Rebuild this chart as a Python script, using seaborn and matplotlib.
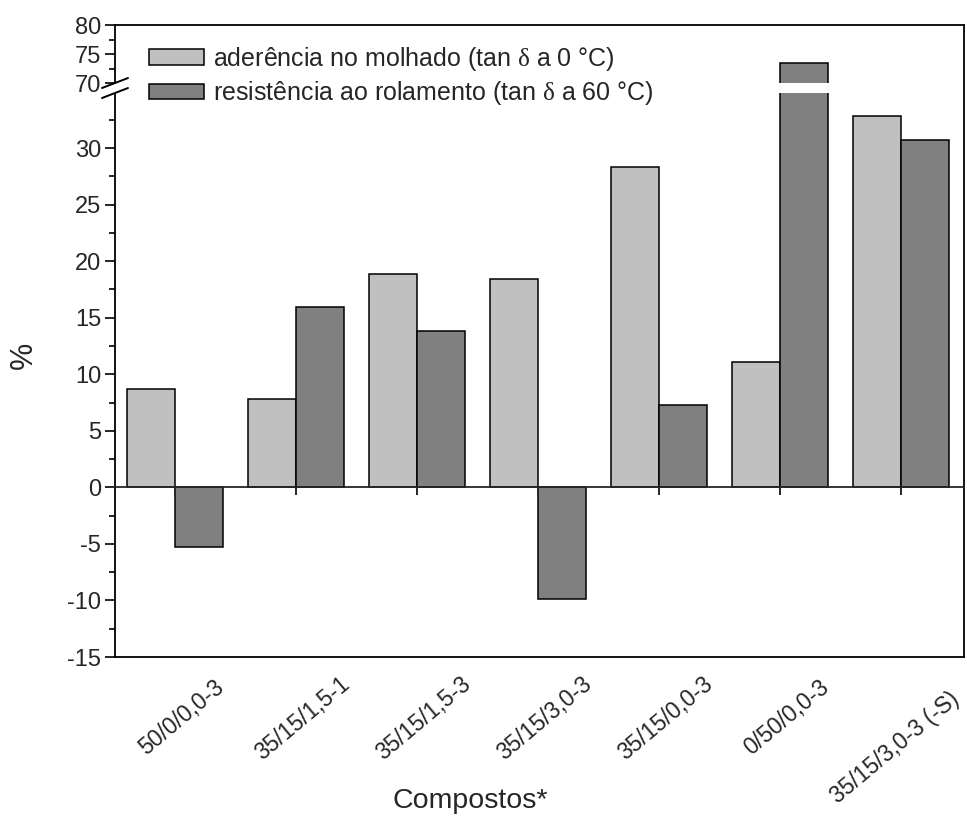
import numpy as np
import pandas as pd
import matplotlib
matplotlib.use("Agg")
import matplotlib.pyplot as plt
import seaborn as sns
from matplotlib.lines import Line2D
from matplotlib.patches import Patch, Polygon
from matplotlib.transforms import ScaledTranslation

# ---------------- data ----------------
categories = ["50/0/0,0-3", "35/15/1,5-1", "35/15/1,5-3", "35/15/3,0-3",
              "35/15/0,0-3", "0/50/0,0-3", "35/15/3,0-3 (-S)"]
aderencia = [8.7, 7.85, 18.85, 18.4, 28.3, 11.1, 32.8]
resistencia = [-5.3, 15.95, 13.8, -9.9, 7.25, 73.4, 30.7]
series_names = [r"aderência no molhado (tan $\delta$ a 0 °C)",
                r"resistência ao rolamento (tan $\delta$ a 60 °C)"]
y_major_ticks = [-15, -10, -5, 0, 5, 10, 15, 20, 25, 30, 70, 75, 80]
y_minor_ticks = [-12.5, -7.5, -2.5, 2.5, 7.5, 12.5, 17.5, 22.5, 27.5, 32.5, 72.5, 77.5]
x_label = "Compostos*"
y_label = "%"

# ---------------- style ----------------
sns.set_style("ticks")
plt.rcParams["font.family"] = ["Liberation Sans", "DejaVu Sans"]
plt.rcParams["mathtext.fontset"] = "custom"
plt.rcParams["mathtext.rm"] = "Liberation Sans"
plt.rcParams["mathtext.it"] = "Liberation Serif"
light, dark = "#c0c0c0", "#808080"

# broken-axis scale (piecewise linear)
LOW_TOP, HIGH_BOTTOM = 34.87, 70.0
GAP = 0.885
HIGH_RATIO = 0.513
_xs = np.array([-1e4, LOW_TOP, HIGH_BOTTOM, 1e4])
_fs = np.array([-1e4, LOW_TOP, LOW_TOP + GAP, LOW_TOP + GAP + (1e4 - HIGH_BOTTOM) * HIGH_RATIO])

def forward(y):
    return np.interp(np.asarray(y, dtype=float), _xs, _fs)

def inverse(v):
    return np.interp(np.asarray(v, dtype=float), _fs, _xs)

W, H = 967, 823
fig = plt.figure(figsize=(W / 100, H / 100), dpi=100)
ax = fig.add_axes([115 / W, 1 - 657 / H, (964 - 115) / W, (657 - 25) / H])

df = pd.DataFrame({
    "Composto": categories * 2,
    "valor": aderencia + resistencia,
    "serie": [series_names[0]] * len(categories) + [series_names[1]] * len(categories),
})
sns.barplot(data=df, x="Composto", y="valor", hue="serie", palette=[light, dark],
            edgecolor="black", linewidth=1.1, width=0.8, saturation=1,
            errorbar=None, legend=False, ax=ax)

ax.set_yscale("function", functions=(forward, inverse))
ax.set_ylim(-15, 80)
ax.set_xlim(-0.496, 6.52)

for s in ax.spines.values():
    s.set_visible(True)
    s.set_linewidth(1.3)
    s.set_color("black")

ax.set_yticks(y_major_ticks)
ax.set_yticklabels([str(t) for t in y_major_ticks])
ax.set_yticks(y_minor_ticks, minor=True)
ax.tick_params(axis="y", which="major", direction="out", length=7, width=1.4,
               labelsize=17, pad=3, left=True, right=False)
ax.tick_params(axis="y", which="minor", direction="out", length=4, width=1.4,
               left=True, right=False)

# category labels: rotated, centred under each category
ax.set_xticks(range(len(categories)))
ax.set_xticklabels([])
ax.tick_params(axis="x", which="both", length=0, bottom=True, top=False)
LABEL_Y = (657 - 718) / (657 - 25)      # axes fraction of label centres
LAST_DROP = 30 / 100                      # inches
xt = ax.get_xaxis_transform()
texts = []
for i, lab in enumerate(categories):
    dy = -LAST_DROP if i == len(categories) - 1 else 0
    tr = xt + ScaledTranslation(6 / 100, dy, fig.dpi_scale_trans)
    t = ax.text(i, LABEL_Y, lab, transform=tr, rotation=40, rotation_mode="anchor",
                ha="center", va="center", fontsize=16.5, clip_on=False)
    texts.append(t)
fig.canvas.draw()
rend = fig.canvas.get_renderer()
for i, t in enumerate(texts):
    bb = t.get_window_extent(rend)
    excess = bb.x1 - (W - 3)
    if excess > 0:
        t.set_transform(t.get_transform() + ScaledTranslation(-excess / 100, 0, fig.dpi_scale_trans))

ax.set_xlabel(x_label, fontsize=20.5)
ax.set_ylabel(y_label, fontsize=22)
ax.xaxis.set_label_coords(0.418, -0.208)
ax.yaxis.set_label_coords(-0.09, 0.478)

# zero axis with ticks
sec = ax.secondary_xaxis(0, transform=ax.transData)
sec.set_xticks(range(len(categories)))
sec.set_xticklabels([])
sec.tick_params(axis="x", direction="out", length=6, width=1.4)
sec.spines["bottom"].set_linewidth(1.3)
sec.set_zorder(3)

# white gap of the broken axis
ax.axhspan(LOW_TOP, HIGH_BOTTOM, color="white", lw=0, zorder=2)

# legend
handles = [Patch(facecolor=light, edgecolor="black", linewidth=1.1),
           Patch(facecolor=dark, edgecolor="black", linewidth=1.1)]
ax.legend(handles, series_names, loc="upper left", bbox_to_anchor=(0.04, 0.969),
          frameon=False, fontsize=18, handlelength=2.2, handleheight=0.6,
          handletextpad=0.35, labelspacing=0.27, borderpad=0, borderaxespad=0)

# break marks on the left spine
xs_disp = ax.transAxes.transform((0, 0))[0]
inv = fig.transFigure.inverted()
for yv in (HIGH_BOTTOM, LOW_TOP):
    yd = ax.transData.transform((0, yv))[1]
    p0 = inv.transform((xs_disp - 13, yd - 5))
    p1 = inv.transform((xs_disp + 13, yd + 5))
    fig.add_artist(Line2D([p0[0], p1[0]], [p0[1], p1[1]], color="black", lw=1.4,
                          transform=fig.transFigure, zorder=10))
yd_hi = ax.transData.transform((0, HIGH_BOTTOM))[1]
yd_lo = ax.transData.transform((0, LOW_TOP))[1]
poly = [inv.transform((xs_disp - 4, yd_hi - 1.5)), inv.transform((xs_disp + 4, yd_hi + 1.5)),
        inv.transform((xs_disp + 4, yd_lo + 1.5)), inv.transform((xs_disp - 4, yd_lo - 1.5))]
fig.add_artist(Polygon(poly, closed=True, facecolor="white", edgecolor="none",
                       transform=fig.transFigure, zorder=9))

fig.savefig("out.png", dpi=100)
